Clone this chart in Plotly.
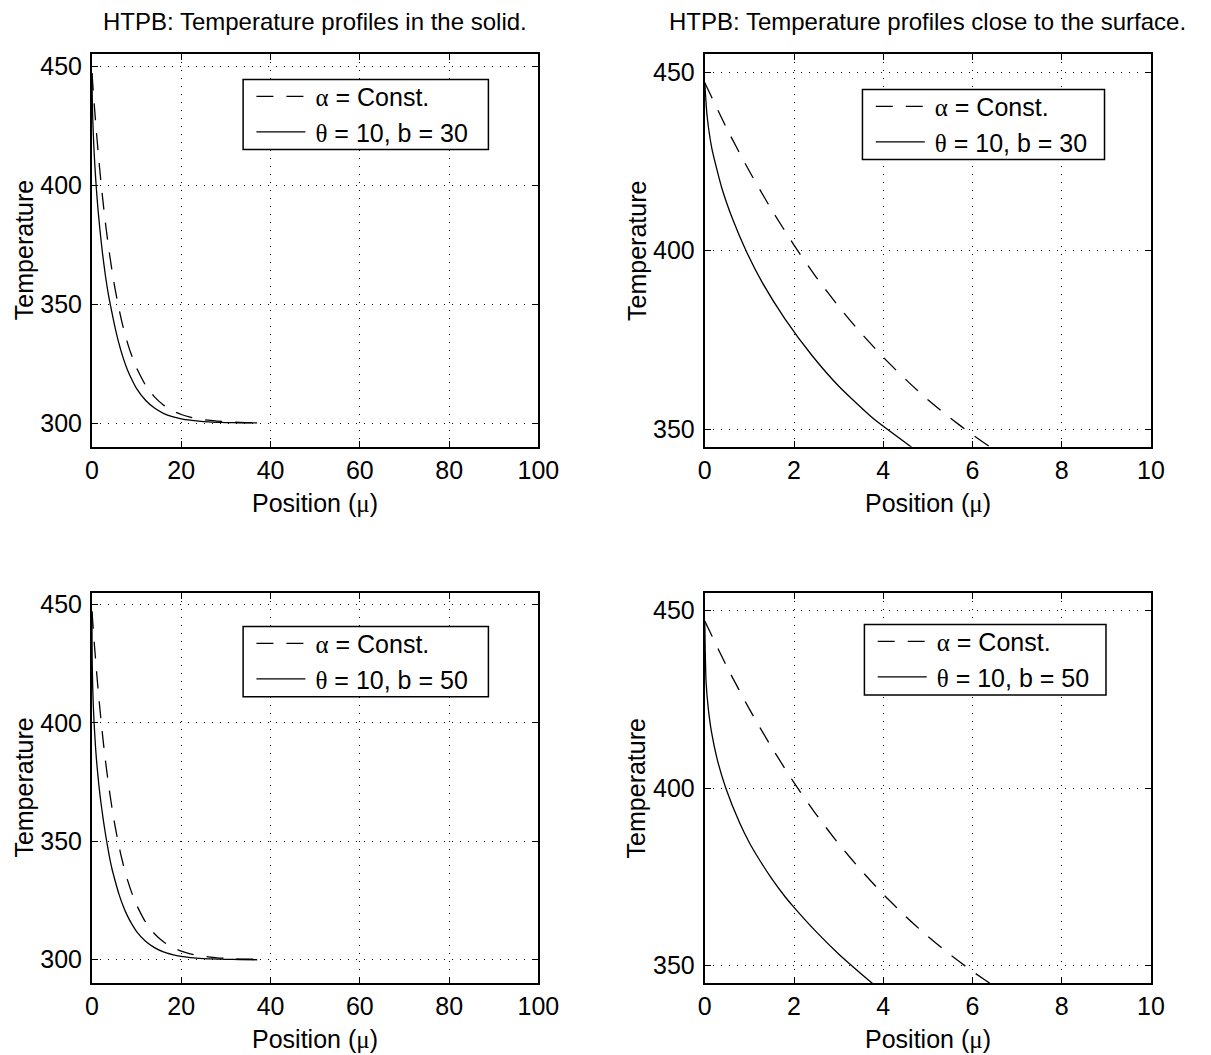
import plotly.graph_objects as go

# ---------------- data ----------------
# alpha = const. profile (same in all four panels)
x_const = [0, 0.5, 1, 1.5, 2, 2.5, 3, 3.5, 4, 4.5, 5, 5.5, 6, 6.5, 7, 8, 9, 10,
           12, 14, 16, 18, 20, 22, 24, 26, 28, 30, 33, 37]
T_const = [447.0, 434.0, 422.2, 411.4, 401.5, 392.5, 384.3, 376.9, 370.1, 363.9,
           358.2, 353.1, 348.4, 344.1, 340.2, 333.4, 327.8, 323.1, 315.9, 311.0,
           307.6, 305.2, 303.6, 302.5, 301.7, 301.2, 300.8, 300.6, 300.3, 300.2]

# theta = 10, b = 30
x_b30 = [0, 0.05, 0.16, 0.38, 0.63, 0.93, 1.29, 1.8, 2.39, 3.01, 3.77, 4.69,
         5, 6, 7, 8, 9, 10, 12, 14, 16, 18, 20, 22, 24, 26, 28, 30, 33, 37]
T_b30 = [447.0, 437.9, 428.5, 417.6, 408.6, 399.8, 391.0, 380.8, 370.8, 361.9,
         353.0, 344.4, 341.6, 333.7, 327.3, 322.1, 318.0, 314.5, 309.6, 306.3,
         304.1, 302.7, 301.8, 301.2, 300.8, 300.5, 300.3, 300.2, 300.1, 300.05]

# theta = 10, b = 50
x_b50 = [0, 0.01, 0.03, 0.08, 0.15, 0.28, 0.47, 0.78, 1.0, 1.2, 1.5, 1.8, 2.0,
         2.5, 3.0, 3.34, 3.8, 4.5, 5, 6, 7, 8, 9, 10, 12, 14, 16, 18, 20, 22,
         24, 26, 28, 30, 33, 37]
T_b50 = [447.0, 438.5, 429.6, 422.2, 415.8, 408.0, 400.0, 390.2, 384.6, 380.3,
         374.5, 369.4, 366.4, 359.5, 353.3, 349.5, 344.6, 338.2, 334.6, 327.9,
         322.6, 318.3, 314.8, 311.9, 307.8, 305.1, 303.3, 302.2, 301.4, 300.9,
         300.6, 300.4, 300.3, 300.2, 300.1, 300.0]

x_ticks_full = [0, 20, 40, 60, 80, 100]
x_ticks_zoom = [0, 2, 4, 6, 8, 10]
y_ticks_full = [300, 350, 400, 450]
y_ticks_zoom = [350, 400, 450]

title_full = "HTPB: Temperature profiles in the solid."
title_zoom = "HTPB: Temperature profiles close to the surface."
xlabel = 'Position (<span style="font-family:Liberation Serif">μ</span>)'
ylabel = "Temperature"
GAP = "\u2009"  # small gap between legend sample and text
name_const = GAP + '<span style="font-family:Liberation Serif">α</span> = Const.'
name_b30 = GAP + '<span style="font-family:Liberation Serif">θ</span> = 10, b = 30'
name_b50 = GAP + '<span style="font-family:Liberation Serif">θ</span> = 10, b = 50'

# ---------------- layout geometry ----------------
W, H = 1211, 1055
FONT = "Liberation Sans, Arial, Helvetica, sans-serif"
FS_TICK = 25
FS_LAB = 25
FS_TITLE = 24
FS_LEG = 25

colL = (87 / W, 544 / W)
colR = (714.3 / W, 1171 / W)
rowT = (1 - 445.7 / H, 1 - 52.3 / H)
rowB = (1 - 983.3 / H, 1 - 591.7 / H)

DASH = "17px,13px"

fig = go.Figure()

panels = [
    dict(ax="", col=colL, row=rowT, xt=x_ticks_full, yt=y_ticks_full, xr=[0, 100], yr=[290, 455],
         sx=x_b30, sT=T_b30, sname=name_b30, leg="legend", box=(241.7, 492.8, 77.7, 147.7)),
    dict(ax="2", col=colR, row=rowT, xt=x_ticks_zoom, yt=y_ticks_zoom, xr=[0, 10], yr=[345, 455],
         sx=x_b30, sT=T_b30, sname=name_b30, leg="legend2", box=(875.7, 1123.5, 87.7, 157.7)),
    dict(ax="3", col=colL, row=rowB, xt=x_ticks_full, yt=y_ticks_full, xr=[0, 100], yr=[290, 455],
         sx=x_b50, sT=T_b50, sname=name_b50, leg="legend3", box=(241.7, 492.8, 625.7, 696.0)),
    dict(ax="4", col=colR, row=rowB, xt=x_ticks_zoom, yt=y_ticks_zoom, xr=[0, 10], yr=[345, 455],
         sx=x_b50, sT=T_b50, sname=name_b50, leg="legend4", box=(877.7, 1125.0, 623.7, 694.3)),
]

axis_common = dict(
    showline=True, linecolor="black", linewidth=2, mirror="ticks",
    ticks="inside", ticklen=6, tickwidth=1.2, tickcolor="black",
    showgrid=True, gridcolor="black", gridwidth=1, griddash="1px,7px",
    zeroline=False, tickmode="array",
    tickfont=dict(size=FS_TICK, color="black", family=FONT),
)

layout = dict(
    width=W, height=H, margin=dict(l=0, r=0, t=0, b=0),
    paper_bgcolor="white", plot_bgcolor="white",
    font=dict(family=FONT, size=FS_LAB, color="black"),
    annotations=[], shapes=[],
)

for p in panels:
    a = p["ax"]
    xref = "x" + a
    yref = "y" + a
    fig.add_trace(go.Scatter(
        x=x_const, y=T_const, mode="lines", name=name_const,
        line=dict(color="black", width=1.3, dash=DASH, shape="spline", smoothing=0.5),
        xaxis=xref, yaxis=yref, legend=p["leg"], showlegend=True))
    fig.add_trace(go.Scatter(
        x=p["sx"], y=p["sT"], mode="lines", name=p["sname"],
        line=dict(color="black", width=1.3, shape="spline", smoothing=0.5),
        xaxis=xref, yaxis=yref, legend=p["leg"], showlegend=True))

    layout["xaxis" + a] = dict(axis_common, domain=list(p["col"]), range=p["xr"],
                               tickvals=p["xt"], anchor=yref, ticklabelstandoff=0)
    layout["yaxis" + a] = dict(axis_common, domain=list(p["row"]), range=p["yr"],
                               tickvals=p["yt"], anchor=xref, ticklabelstandoff=3)

    bx0, bx1, by0, by1 = p["box"]
    layout["shapes"].append(dict(
        type="rect", xref="paper", yref="paper", layer="above",
        x0=bx0 / W, x1=bx1 / W, y0=1 - by1 / H, y1=1 - by0 / H,
        line=dict(color="black", width=1.5), fillcolor="white"))
    layout[p["leg"]] = dict(
        x=(bx0 + 8.5) / W, y=1 - (by0 - 6) / H, xanchor="left", yanchor="top",
        bgcolor="rgba(0,0,0,0)", borderwidth=0, itemwidth=49,
        font=dict(size=FS_LEG, family=FONT, color="black"), tracegroupgap=0)

    cx = (p["col"][0] + p["col"][1]) / 2
    cy = (p["row"][0] + p["row"][1]) / 2
    bot_px = (1 - p["row"][0]) * H
    left_px = p["col"][0] * W
    if p["row"] == rowT:
        layout["annotations"].append(dict(
            text=title_full if p["col"] == colL else title_zoom,
            x=cx, y=1 - 20 / H, xref="paper", yref="paper",
            xanchor="center", yanchor="middle", showarrow=False,
            font=dict(size=FS_TITLE, family=FONT, color="black")))
    layout["annotations"].append(dict(
        text=xlabel, x=cx, y=1 - (bot_px + 56) / H, xref="paper", yref="paper",
        xanchor="center", yanchor="middle", showarrow=False,
        font=dict(size=FS_LAB, family=FONT, color="black")))
    layout["annotations"].append(dict(
        text=ylabel, x=(left_px - 70) / W, y=cy, xref="paper", yref="paper",
        xanchor="center", yanchor="middle", showarrow=False, textangle=-90,
        font=dict(size=FS_LAB, family=FONT, color="black")))

fig.update_layout(**layout)
fig.write_html("out.html")
